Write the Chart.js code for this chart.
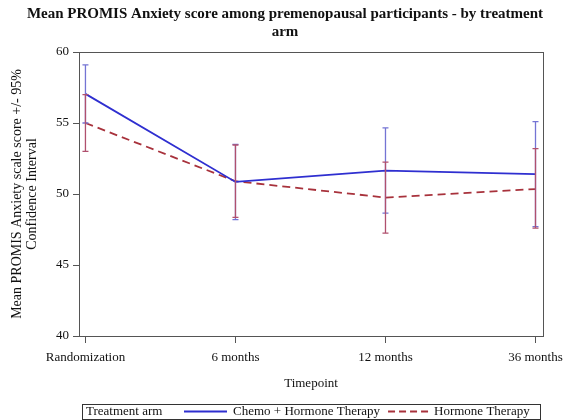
<!DOCTYPE html>
<html>
<head>
<meta charset="utf-8">
<script src="https://cdn.jsdelivr.net/npm/chart.js@4/dist/chart.umd.min.js"></script>
<style>
  html, body { margin: 0; padding: 0; background: #fff; }
  #wrap { width: 564px; height: 420px; }
</style>
</head>
<body>
<div id="wrap"><canvas id="promisChart" width="564" height="420"></canvas></div>
<script>
const timepoints = ['Randomization', '6 months', '12 months', '36 months'];

const chemoMean  = [57.05, 50.85, 51.65, 51.40];
const chemoLower = [55.00, 48.20, 48.65, 47.70];
const chemoUpper = [59.10, 53.50, 54.65, 55.10];

const hormoneMean  = [55.00, 50.90, 49.75, 50.35];
const hormoneLower = [53.00, 48.35, 47.25, 47.60];
const hormoneUpper = [57.00, 53.45, 52.25, 53.20];

const yTicks = [40, 45, 50, 55, 60];

const FONT = "'Liberation Serif', 'DejaVu Serif', serif";
const BLUE = '#2f2fd0';
const RED = '#a8323c';
const BLUE_CI = '#7474d4';
const RED_CI = '#b0506e';

const toPoints = arr => arr.map((v, i) => ({ x: i, y: v }));

const series = [
    { label: 'Chemo + Hormone Therapy', mean: chemoMean, lower: chemoLower, upper: chemoUpper, color: BLUE, ci: BLUE_CI, dash: [] },
    { label: 'Hormone Therapy', mean: hormoneMean, lower: hormoneLower, upper: hormoneUpper, color: RED, ci: RED_CI, dash: [8, 5] }
];

// confidence interval whiskers, drawn with the chart's own scales
const errorBars = {
    id: 'errorBars',
    afterDatasetsDraw(chart) {
        const { ctx, scales: { x, y } } = chart;
        ctx.save();
        ctx.lineWidth = 1.3;
        series.forEach(s => {
            ctx.strokeStyle = s.ci;
            s.mean.forEach((_, i) => {
                const px = x.getPixelForValue(i);
                const top = y.getPixelForValue(s.upper[i]);
                const bot = y.getPixelForValue(s.lower[i]);
                ctx.beginPath();
                ctx.moveTo(px, top); ctx.lineTo(px, bot);
                ctx.moveTo(px - 3, top); ctx.lineTo(px + 3, top);
                ctx.moveTo(px - 3, bot); ctx.lineTo(px + 3, bot);
                ctx.stroke();
            });
        });
        ctx.restore();
    }
};

// plot frame, title and the boxed legend underneath
const decorations = {
    id: 'decorations',
    afterDraw(chart) {
        const { ctx, chartArea: a } = chart;
        ctx.save();
        ctx.strokeStyle = '#555';
        ctx.lineWidth = 1;
        ctx.strokeRect(Math.round(a.left) + 0.5, Math.round(a.top) + 0.5,
            Math.round(a.right - a.left), Math.round(a.bottom - a.top));

        ctx.fillStyle = '#111';
        ctx.font = `bold 15px ${FONT}`;
        ctx.textAlign = 'center';
        ctx.textBaseline = 'middle';
        ctx.fillText('Mean PROMIS Anxiety score among premenopausal participants - by treatment', 285, 14);
        ctx.fillText('arm', 285, 32);

        // legend
        ctx.font = `13px ${FONT}`;
        ctx.textAlign = 'left';
        const ly = 411.5;
        const boxL = 82, boxR = 540;
        ctx.strokeStyle = '#333';
        ctx.strokeRect(boxL + 0.5, 404.5, boxR - boxL, 15);
        ctx.fillText('Treatment arm', 86, ly);
        let cx = 184;
        series.forEach((s, k) => {
            const len = k === 0 ? 43 : 40;
            ctx.strokeStyle = s.color;
            ctx.lineWidth = 1.8;
            ctx.setLineDash(s.dash.length ? [7, 4] : []);
            ctx.beginPath();
            ctx.moveTo(cx, ly); ctx.lineTo(cx + len, ly);
            ctx.stroke();
            ctx.setLineDash([]);
            cx += len + 6;
            ctx.fillText(s.label, cx, ly);
            cx += ctx.measureText(s.label).width + 8;
        });
        ctx.restore();
    }
};

new Chart(document.getElementById('promisChart'), {
    type: 'line',
    data: {
        datasets: series.map(s => ({
            label: s.label,
            data: toPoints(s.mean),
            borderColor: s.color,
            borderWidth: 1.8,
            borderDash: s.dash,
            pointRadius: 0,
            tension: 0,
            fill: false
        }))
    },
    options: {
        responsive: false,
        animation: false,
        layout: { padding: { top: 52, right: 21, bottom: 24, left: 0 } },
        plugins: {
            legend: { display: false },
            title: { display: false },
            tooltip: { enabled: false }
        },
        scales: {
            x: {
                type: 'linear',
                min: -0.043,
                max: 3.05,
                afterBuildTicks: scale => { scale.ticks = timepoints.map((_, i) => ({ value: i })); },
                afterFit: scale => {
                    scale.height = 60;
                    scale.paddingLeft = 0;
                    scale.paddingRight = 0;
                },
                ticks: {
                    callback: v => timepoints[v],
                    color: '#111',
                    font: { family: FONT, size: 13 },
                    padding: 7,
                    maxRotation: 0,
                    autoSkip: false
                },
                grid: { drawOnChartArea: false, drawTicks: true, tickLength: 7, color: '#555' },
                border: { color: '#555' },
                title: {
                    display: true,
                    text: 'Timepoint',
                    color: '#111',
                    font: { family: FONT, size: 13 },
                    padding: { top: 4, bottom: 5 }
                }
            },
            y: {
                min: 40,
                max: 60,
                afterBuildTicks: scale => { scale.ticks = yTicks.map(v => ({ value: v })); },
                afterFit: scale => { scale.width = 79; },
                ticks: {
                    color: '#111',
                    font: { family: FONT, size: 13 },
                    padding: 4
                },
                grid: { drawOnChartArea: false, drawTicks: true, tickLength: 6, color: '#555' },
                border: { color: '#555' },
                title: {
                    display: true,
                    text: ['Mean PROMIS Anxiety scale score +/- 95%', 'Confidence Interval'],
                    color: '#111',
                    font: { family: FONT, size: 14, lineHeight: 1.07 },
                    padding: { top: 9.5, bottom: 0 }
                }
            }
        }
    },
    plugins: [errorBars, decorations]
});
</script>
</body>
</html>
